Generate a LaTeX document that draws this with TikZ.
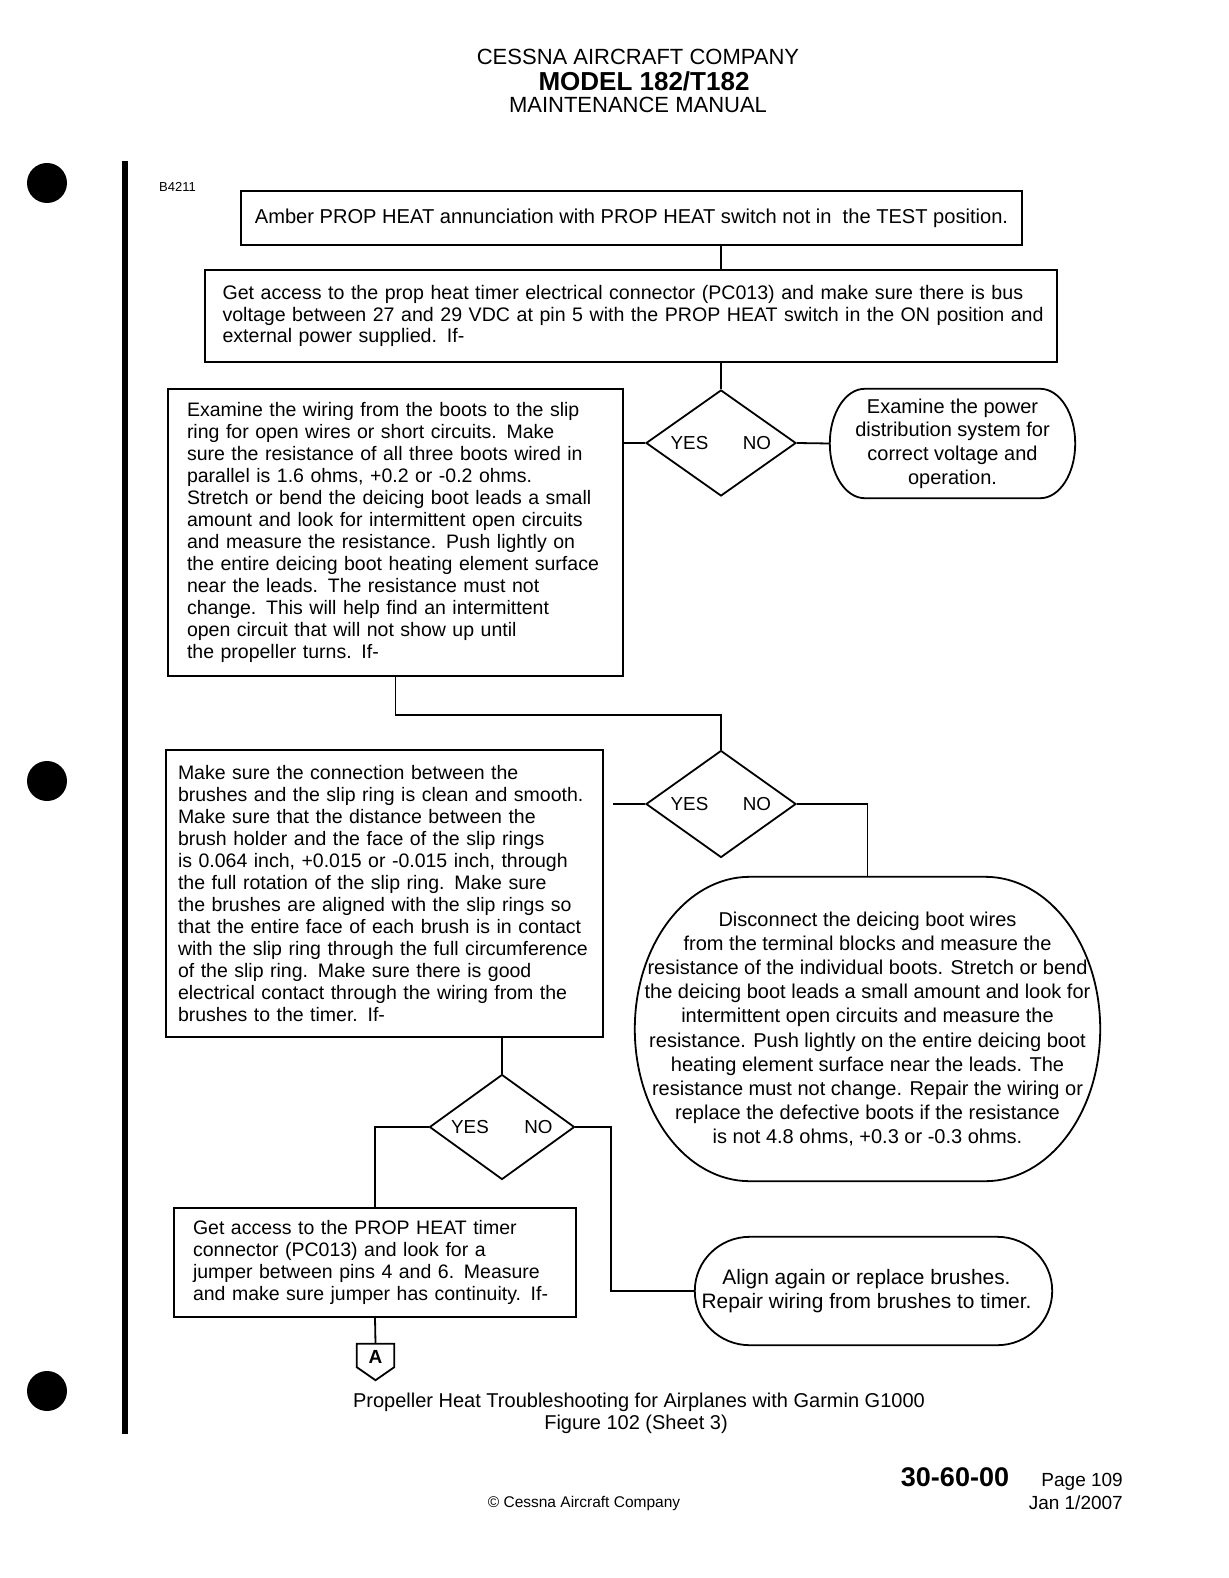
\documentclass[tikz,border=0pt]{standalone}
\usepackage{fontspec}
\setmainfont{Liberation Sans}
\usetikzlibrary{shapes.geometric}
\newcommand\fsz[2]{\fontsize{#1}{#2}\selectfont}
\newcommand\ovaldraw[3]{\draw[ln] ([xshift=#2]#1.north west) -- ([xshift=-#2]#1.north east)
  arc[start angle=90,end angle=0,x radius=#2,y radius=#3] -- ([yshift=#3]#1.south east)
  arc[start angle=0,end angle=-90,x radius=#2,y radius=#3] -- ([xshift=#2]#1.south west)
  arc[start angle=270,end angle=180,x radius=#2,y radius=#3] -- ([yshift=-#3]#1.north west)
  arc[start angle=180,end angle=90,x radius=#2,y radius=#3] -- cycle;}
\begin{document}
\begin{tikzpicture}[x=1pt,y=-1pt,
  ln/.style={line width=1.8pt},
  boxl/.style={draw, line width=1.8pt, rectangle, align=left, inner ysep=0pt, font=\fsz{19.5}{22}},
  term/.style={rectangle, align=center, inner sep=0pt, font=\fsz{20}{24}},
  dia/.style={draw, diamond, line width=1.8pt, inner sep=0pt},
  yn/.style={font=\fsz{18.8}{22}, inner sep=0pt},
  txt/.style={inner sep=0pt, align=center}]

\useasboundingbox (0,0) rectangle (1228,1578);
\fill[white] (0,0) rectangle (1228,1578);

% margin marks
\fill (47,183) circle[radius=20pt];
\fill (47,781) circle[radius=20pt];
\fill (47,1391) circle[radius=20pt];
\fill (122,161) rectangle (128,1434);

% header
\node[txt, font=\fsz{22}{24}] (h1) at (638,57) {CESSNA AIRCRAFT COMPANY};
\node[txt, font=\fsz{26}{28}\bfseries] (h2) at (644,81) {MODEL 182/T182};
\node[txt, font=\fsz{22}{24}] (h3) at (638,105) {MAINTENANCE MANUAL};
\node[txt, font=\fsz{13}{15}, anchor=west] (code) at (159,187) {B4211};

% boxes
\node[boxl, align=center, minimum width=781pt, minimum height=54pt, font=\fsz{20.1}{22}] (b1) at (631.5,218)
  {Amber PROP HEAT annunciation with PROP HEAT switch not in~ the TEST position.};
\node[boxl, inner xsep=17.5pt, text width=817pt, minimum height=92pt, font=\fsz{19.6}{21.7}] (b2) at (631,316)
  {\mbox{Get access to the prop heat timer electrical connector (PC013) and make sure there is bus}\\
   \mbox{voltage between 27 and 29 VDC at pin 5 with the PROP HEAT switch in the ON position and}\\
   external power supplied.  If-};
\node[dia, minimum width=150pt, minimum height=106pt] (d1) at (721,443) {};
\node[yn] (d1y) at (689.5,443) {YES};
\node[yn] (d1n) at (757,443) {NO};
\node[boxl, inner xsep=19pt, text width=417pt, minimum height=287pt] (b3) at (395.5,532.5)
  {Examine the wiring from the boots to the slip\\
   ring for open wires or short circuits.  Make\\
   sure the resistance of all three boots wired in\\
   parallel is 1.6 ohms, +0.2 or -0.2 ohms.\\
   Stretch or bend the deicing boot leads a small\\
   amount and look for intermittent open circuits\\
   and measure the resistance.  Push lightly on\\
   the entire deicing boot heating element surface\\
   near the leads.  The resistance must not\\
   change.  This will help find an intermittent\\
   open circuit that will not show up until\\
   the propeller turns.  If-};
\node[term, minimum width=245pt, minimum height=109pt, font=\fsz{20}{23.7}] (r1) at (952.5,443.5)
  {Examine the power\\ distribution system for\\ correct voltage and\\ operation.};
\ovaldraw{r1}{35pt}{54.5pt}

\node[dia, minimum width=150pt, minimum height=107pt] (d2) at (721,804) {};
\node[yn] (d2y) at (689.5,804) {YES};
\node[yn] (d2n) at (757,804) {NO};
\node[boxl, inner xsep=12pt, text width=413pt, minimum height=287pt] (b4) at (384.5,893.5)
  {Make sure the connection between the\\
   brushes and the slip ring is clean and smooth.\\
   Make sure that the distance between the\\
   brush holder and the face of the slip rings\\
   is 0.064 inch, +0.015 or -0.015 inch, through\\
   the full rotation of the slip ring.  Make sure\\
   the brushes are aligned with the slip rings so\\
   that the entire face of each brush is in contact\\
   with the slip ring through the full circumference\\
   of the slip ring.  Make sure there is good\\
   electrical contact through the wiring from the\\
   brushes to the timer.  If-};
\node[term, minimum width=465pt, minimum height=304pt, font=\fsz{20}{24.2}] (r2) at (867.5,1029)
  {Disconnect the deicing boot wires\\
   from the terminal blocks and measure the\\
   resistance of the individual boots.  Stretch or bend\\
   the deicing boot leads a small amount and look for\\
   intermittent open circuits and measure the\\
   resistance.  Push lightly on the entire deicing boot\\
   heating element surface near the leads.  The\\
   resistance must not change.  Repair the wiring or\\
   replace the defective boots if the resistance\\
   is not 4.8 ohms, +0.3 or -0.3 ohms.};
\ovaldraw{r2}{115pt}{152pt}

\node[dia, minimum width=145pt, minimum height=105pt] (d3) at (502,1127) {};
\node[yn] (d3y) at (470,1127) {YES};
\node[yn] (d3n) at (538.5,1127) {NO};
\node[boxl, inner xsep=19pt, text width=364pt, minimum height=109pt] (b5) at (375,1262.5)
  {Get access to the PROP HEAT timer\\
   connector (PC013) and look for a\\
   jumper between pins 4 and 6.  Measure\\
   and make sure jumper has continuity.  If-};
\node[term, minimum width=357pt, minimum height=108pt] (r3) at (873.5,1291) {};
\ovaldraw{r3}{55pt}{54pt}
\node[txt, font=\fsz{20.9}{24.2}] (r3t) at (866.5,1291)
  {Align again or replace brushes.\\ Repair wiring from brushes to timer.};

% off-page connector A
\node[rectangle, inner sep=0pt, minimum width=37pt, minimum height=36pt] (conA) at (375.5,1362) {};
\draw[ln] (conA.north west) -- (conA.north east) -- ([yshift=13pt]conA.south east)
  -- (conA.south) -- ([yshift=13pt]conA.south west) -- cycle;
\node[txt, font=\fsz{19}{22}\bfseries] (conAt) at (375.5,1357) {A};

% connectors
\draw[ln] (b1.south -| d1.north) -- (b2.north -| d1.north);
\draw[ln] (b2.south -| d1.north) -- (d1.north);
\draw[ln] (d1.west -| b3.east) -- (d1.west);
\draw[ln] (d1.east) -- (r1.west);
\coordinate (j1) at (721,715);
\draw[ln] (b3.south) |- (j1) -- (d2.north);
\coordinate (c1) at (613,804);
\draw[ln] (c1) -- (d2.west);
\draw[ln] (d2.east) -| (r2.north);
\draw[ln] (d3.north |- b4.south) -- (d3.north);
\draw[ln] (d3.west) -| (b5.north);
\coordinate (j2) at (611,1127);
\draw[ln] (d3.east) -- (j2) |- (r3.west);
\draw[ln] (b5.south) -- (conA.north);

% caption and footer
\node[txt, font=\fsz{20}{22}] (cap1) at (639,1402) {Propeller Heat Troubleshooting for Airplanes with Garmin G1000};
\node[txt, font=\fsz{20}{22}] (cap2) at (636,1424) {Figure 102 (Sheet 3)};
\node[txt, font=\fsz{27}{29}\bfseries] (sec) at (955,1477) {30-60-00};
\node[txt, font=\fsz{19}{21}, anchor=east] (pg) at (1123,1482) {Page 109};
\node[txt, font=\fsz{19}{21}, anchor=east] (dt) at (1123,1503) {Jan 1/2007};
\node[txt, font=\fsz{15.5}{17}] (copy) at (584,1503) {© Cessna Aircraft Company};
\end{tikzpicture}
\end{document}
